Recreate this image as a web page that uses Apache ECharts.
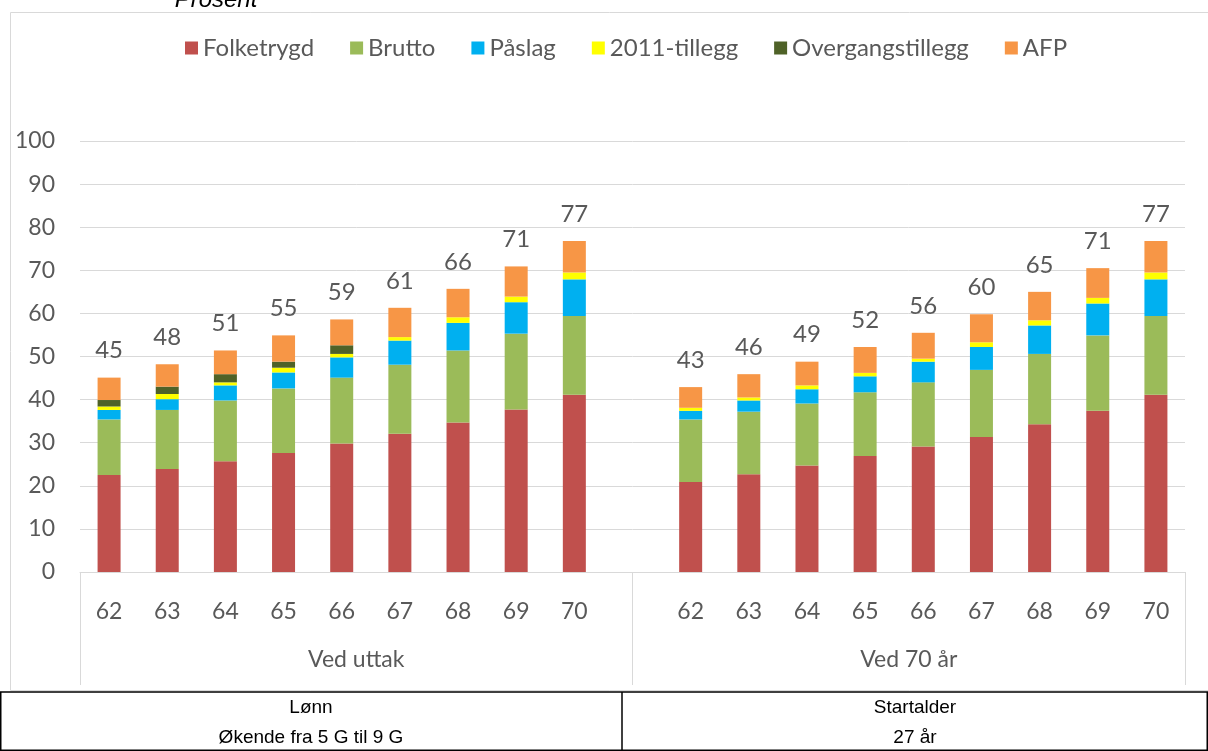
<!DOCTYPE html>
<html lang="no">
<head>
    <meta charset="UTF-8">
    <title>Prosent</title>
    <style>
        body{margin:0;background:#fff;}
        #chart{width:1208px;height:751px;}
    </style>
</head>
<body>
<div id="chart"></div>
<script src="https://cdn.jsdelivr.net/npm/echarts@6/dist/echarts.min.js"></script>
<script>
// alder ved uttak
var ages = ['62', '63', '64', '65', '66', '67', '68', '69', '70'];
var groups = ['Ved uttak', 'Ved 70 år'];

// Ved uttak
var folketrygdUttak = [22.5, 23.9, 25.7, 27.6, 29.8, 32.1, 34.7, 37.7, 41.1];
var bruttoUttak = [12.9, 13.7, 14.1, 15.0, 15.3, 16.0, 16.7, 17.6, 18.3];
var paslagUttak = [2.2, 2.5, 3.5, 3.7, 4.7, 5.6, 6.4, 7.3, 8.5];
var tillegg2011Uttak = [0.8, 1.2, 0.7, 1.1, 0.8, 0.8, 1.3, 1.3, 1.6];
var overgangUttak = [1.5, 1.7, 1.9, 1.4, 2.0, 0, 0, 0, 0];
var afpUttak = [5.2, 5.2, 5.5, 6.1, 6.0, 6.8, 6.6, 7.0, 7.3];
var totalUttak = [45, 48, 51, 55, 59, 61, 66, 71, 77];

// Ved 70 år
var folketrygd70 = [20.9, 22.7, 24.7, 26.9, 29.1, 31.3, 34.3, 37.4, 41.1];
var brutto70 = [14.5, 14.5, 14.4, 14.8, 14.9, 15.6, 16.3, 17.5, 18.3];
var paslag70 = [2.0, 2.6, 3.3, 3.7, 4.8, 5.3, 6.6, 7.4, 8.5];
var tillegg201170 = [0.7, 0.7, 0.9, 0.8, 0.7, 1.1, 1.2, 1.3, 1.6];
var overgang70 = [0, 0, 0, 0, 0, 0, 0, 0, 0];
var afp70 = [4.8, 5.4, 5.5, 6.0, 6.0, 6.5, 6.6, 6.9, 7.3];
var total70 = [43, 46, 49, 52, 56, 60, 65, 71, 77];

var yTicks = [0, 10, 20, 30, 40, 50, 60, 70, 80, 90, 100];

// en tom kategori mellom gruppene
var categories = ages.concat([''], ages);
function join(a, b) { return a.concat([null], b); }
var totals = join(totalUttak, total70);

var txt = '#595959';
var grey = '#d9d9d9';
var font = 'Lato';

function bar(name, color, data, last) {
    var s = {
        name: name,
        type: 'bar',
        stack: 'sum',
        barWidth: 23,
        itemStyle: { color: color },
        data: data
    };
    if (last) {
        s.label = {
            show: true,
            position: 'top',
            distance: 15,
            color: txt,
            fontFamily: font,
            fontSize: 24,
            formatter: function (p) { return totals[p.dataIndex]; }
        };
    }
    return s;
}

var myChart = echarts.init(document.getElementById('chart'));
var option = {
    animation: false,
    textStyle: { fontFamily: font },
    legend: {
        top: 31,
        left: 180,
        itemWidth: 13,
        itemHeight: 13,
        itemGap: 36,
        icon: 'rect',
        textStyle: { color: txt, fontSize: 24, fontFamily: font }
    },
    grid: { left: 80, right: 23, top: 141, bottom: 179 },
    xAxis: [{
        type: 'category',
        data: categories,
        axisLine: { lineStyle: { color: grey } },
        axisTick: { show: false },
        axisLabel: { color: txt, fontSize: 23, margin: 28, interval: 0 }
    }, {
        type: 'category',
        position: 'bottom',
        data: groups,
        axisLine: { show: false },
        axisTick: { show: true, length: 113, lineStyle: { color: grey } },
        axisLabel: { color: txt, fontSize: 23, margin: 76 }
    }],
    yAxis: {
        type: 'value',
        min: yTicks[0],
        max: yTicks[yTicks.length - 1],
        interval: 10,
        axisLine: { show: false },
        axisTick: { show: false },
        axisLabel: { color: txt, fontSize: 23, margin: 25 },
        splitLine: { lineStyle: { color: grey } }
    },
    series: [
        bar('Folketrygd', '#C0504D', join(folketrygdUttak, folketrygd70)),
        bar('Brutto', '#9BBB59', join(bruttoUttak, brutto70)),
        bar('Påslag', '#00B0F0', join(paslagUttak, paslag70)),
        bar('2011-tillegg', '#FFFF00', join(tillegg2011Uttak, tillegg201170)),
        bar('Overgangstillegg', '#4F6228', join(overgangUttak, overgang70)),
        bar('AFP', '#F79646', join(afpUttak, afp70), true)
    ],
    graphic: [
        { type: 'rect', shape: { x: 10.5, y: 12.5, width: 1210, height: 678 },
          style: { fill: null, stroke: grey, lineWidth: 1 }, z: -1 },
        { type: 'text', x: 216, y: 12,
          style: { text: 'Prosent', font: 'italic 24px "Liberation Sans"', fill: '#000',
                   align: 'center', verticalAlign: 'bottom' } },
        { type: 'rect', shape: { x: 0.75, y: 692, width: 1206.5, height: 58.25 },
          style: { fill: null, stroke: '#000', lineWidth: 1.5 } },
        { type: 'line', shape: { x1: 622, y1: 692, x2: 622, y2: 751 },
          style: { stroke: '#000', lineWidth: 1.5 } },
        { type: 'text', x: 311, y: 708,
          style: { text: 'Lønn', font: '19px "Liberation Sans"', fill: '#000', align: 'center', verticalAlign: 'middle' } },
        { type: 'text', x: 311, y: 738,
          style: { text: 'Økende fra 5 G til 9 G', font: '19px "Liberation Sans"', fill: '#000', align: 'center', verticalAlign: 'middle' } },
        { type: 'text', x: 915, y: 708,
          style: { text: 'Startalder', font: '19px "Liberation Sans"', fill: '#000', align: 'center', verticalAlign: 'middle' } },
        { type: 'text', x: 915, y: 738,
          style: { text: '27 år', font: '19px "Liberation Sans"', fill: '#000', align: 'center', verticalAlign: 'middle' } }
    ]
};
myChart.setOption(option);
</script>
</body>
</html>
